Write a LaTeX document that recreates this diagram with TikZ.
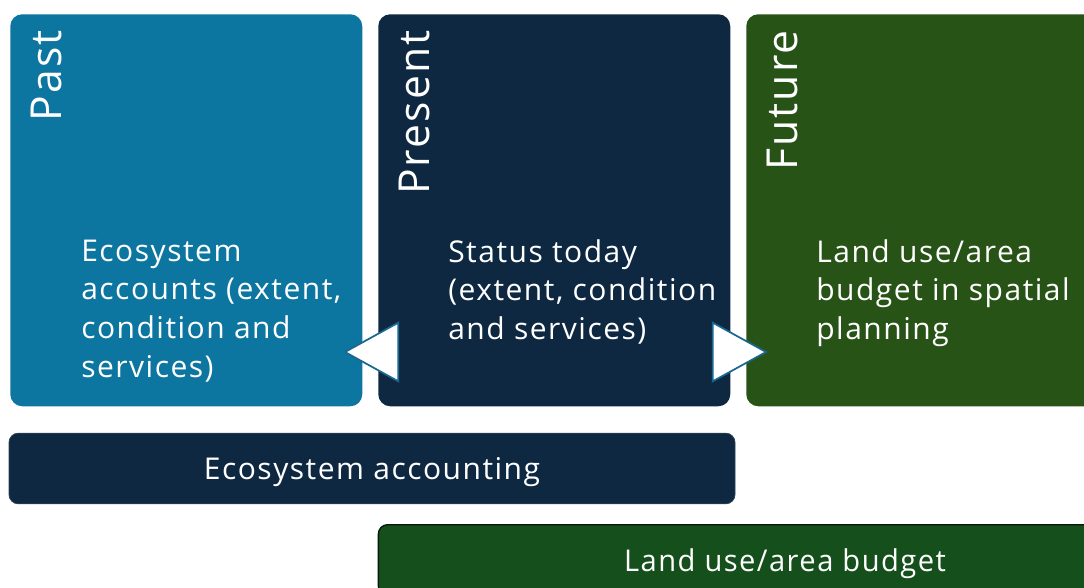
\documentclass[tikz,border=0pt]{standalone}
\usepackage{fontspec}
\setmainfont{Open Sans}[LetterSpace=5]
\usepackage{xcolor}
\usetikzlibrary{shapes,arrows,positioning}

\definecolor{pastblue}{HTML}{0D76A0}
\definecolor{nownavy}{HTML}{0E2841}
\definecolor{futuregreen}{HTML}{275317}
\definecolor{budgetgreen}{HTML}{15501C}
\definecolor{tipblue}{HTML}{1A6890}

\tikzset{
  panel/.style={anchor=north west, rounded corners=9pt, inner sep=0pt,
    minimum width=264pt, minimum height=294pt},
  era/.style={rotate=90, anchor=north east, inner sep=0pt, text=white,
    font=\fontsize{32}{38}\selectfont},
  blurb/.style={anchor=north west, inner sep=0pt, align=left, text=white,
    font=\fontsize{22.5}{29}\selectfont},
  bar/.style={rounded corners=7pt, inner sep=0pt, minimum height=53pt,
    text depth=0pt, text=white, font=\fontsize{22.5}{29}\selectfont},
  arrowtri/.style={isosceles triangle, isosceles triangle stretches,
    fill=white, draw=tipblue, line width=1.3pt, inner sep=0pt,
    minimum height=40pt, minimum width=44pt}
}

\begin{document}
\begin{tikzpicture}[x=0.75pt,y=-0.75pt]
\useasboundingbox (0,0) rectangle (1084,588);
\clip (0,0) rectangle (1084,588);

% three time panels
\node [panel, fill=pastblue] (past) at (10,14) {};
\node [panel, fill=nownavy] (present) at (378,14) {};
\node [panel, fill=futuregreen] (future) at (746,14) {};

\node [era] (pastlbl) at ([xshift=21pt*0.75,yshift=-16pt*0.75]past.north west) {Past};
\node [era] (presentlbl) at ([xshift=21pt*0.75,yshift=-16pt*0.75]present.north west) {Present};
\node [era] (futurelbl) at ([xshift=21pt*0.75,yshift=-16pt*0.75]future.north west) {Future};

\node [blurb] (pasttxt) at ([xshift=71pt*0.75,yshift=-225.5pt*0.75]past.north west)
  {Ecosystem\\accounts (extent,\\condition and\\services)};
\node [blurb] (presenttxt) at ([xshift=70pt*0.75,yshift=-225pt*0.75]present.north west)
  {Status today\\(extent, condition\\and services)};
\node [blurb] (futuretxt) at ([xshift=70pt*0.75,yshift=-225pt*0.75]future.north west)
  {Land use/area\\budget in spatial\\planning};

% arrows between the panels
\node [arrowtri, shape border rotate=180] (toPast) at (381,352) {};
\node [arrowtri] (toFuture) at (730,352) {};

% bottom bars
\node [bar, fill=nownavy, draw=nownavy!70!gray, line width=0.6pt,
  minimum width=544.5pt] (accounting) at (372,468.5) {Ecosystem accounting};
\node [bar, fill=budgetgreen, draw=black!70!budgetgreen, line width=1pt,
  minimum width=610pt] (budget) at (785,560)
  {\scalebox{0.97}[1]{Land use/area budget}};
\end{tikzpicture}
\end{document}
